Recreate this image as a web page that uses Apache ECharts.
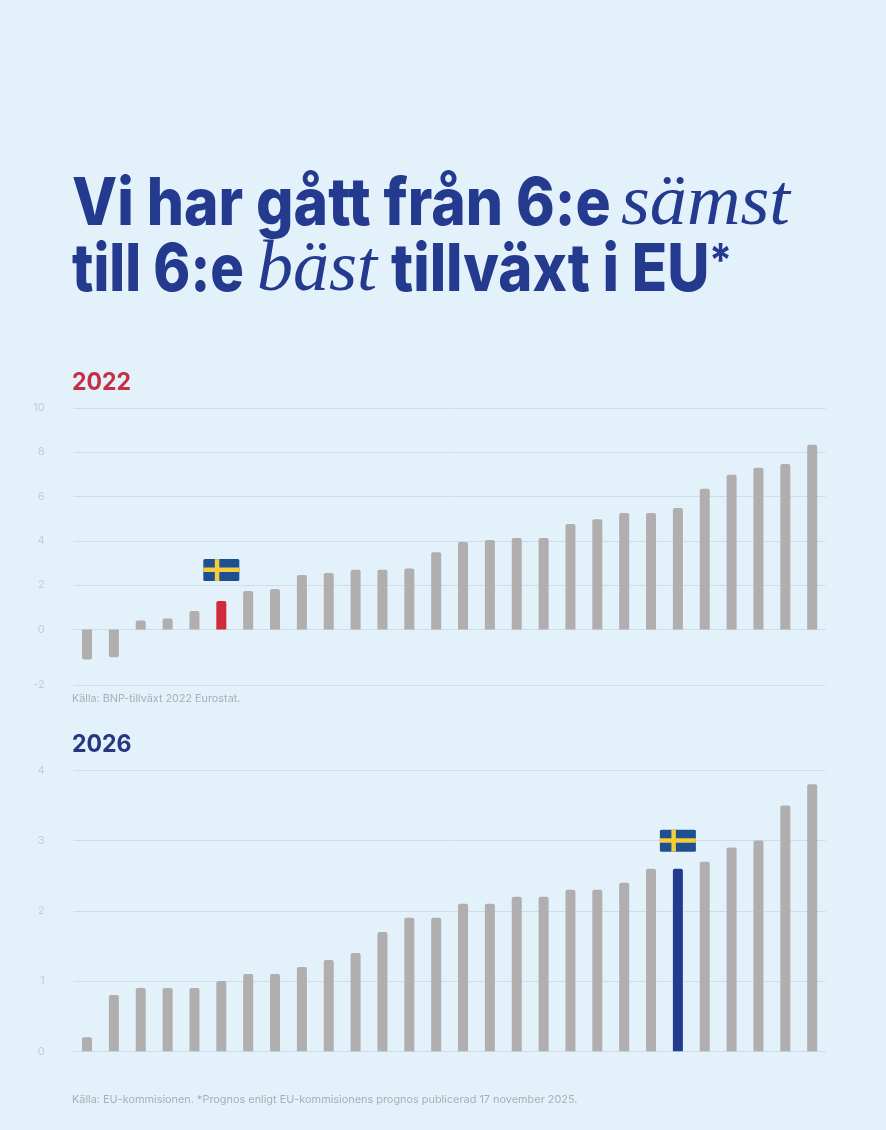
<!DOCTYPE html>
<html>
<head>
<meta charset="utf-8">
<title>Tillväxt i EU</title>
<script src="https://cdn.jsdelivr.net/npm/echarts@6/dist/echarts.min.js"></script>
<style>
  html, body { margin: 0; padding: 0; background: #e3f1fb; }
  #chart { width: 886px; height: 1130px; }
</style>
</head>
<body>
<div id="chart"></div>
<script>
// EU countries sorted by growth, the picture has no country names
const ranks = ['1','2','3','4','5','6','7','8','9','10','11','12','13','14','15','16','17','18','19','20','21','22','23','24','25','26','27','28'];

const values2022 = [-1.08,-1.0,0.41,0.5,0.84,1.28,1.74,1.83,2.46,2.55,2.69,2.69,2.75,3.48,3.95,4.04,4.13,4.13,4.76,4.97,5.26,5.26,5.48,6.35,6.98,7.3,7.46,8.33];
const values2026 = [0.2,0.8,0.9,0.9,0.9,1.0,1.1,1.1,1.2,1.3,1.4,1.7,1.9,1.9,2.1,2.1,2.2,2.2,2.3,2.3,2.4,2.6,2.6,2.7,2.9,3.0,3.5,3.8];

const sweden2022 = 5;
const sweden2026 = 22;

const grey = '#b0aeae';
const red = '#cf2b3a';
const blue = '#233a8f';
const lineColor = '#cfdde8';
const tickColor = '#c6ccd1';
const sourceColor = '#a9afb4';
const bg = '#e3f1fb';
const sans = 'Inter, "Liberation Sans", sans-serif';

function barData(values, sweden, color, keep) {
    return values.map((v, i) => {
        if (!keep(v)) return null;
        return i === sweden ? { value: v, itemStyle: { color: color } } : v;
    });
}

function barSeries(idx, data, radius) {
    return {
        type: 'bar',
        xAxisIndex: idx,
        yAxisIndex: idx,
        data: data,
        barWidth: 10,
        silent: true,
        itemStyle: { color: grey, borderRadius: radius }
    };
}

// flag sits a fixed distance above the Swedish bar
function flagSeries(idx, sweden, value, gap) {
    return {
        type: 'custom',
        xAxisIndex: idx,
        yAxisIndex: idx,
        silent: true,
        clip: false,
        z: 5,
        data: [[sweden, value]],
        renderItem: (params, api) => {
            const p = api.coord([api.value(0), api.value(1)]);
            const x = p[0] - 18;
            const y = p[1] - gap - 11;
            return {
                type: 'group',
                children: [
                    { type: 'rect', shape: { x: x, y: y, width: 36, height: 22, r: 1.5 }, style: { fill: '#1d4f91' } },
                    { type: 'rect', shape: { x: x + 11.5, y: y, width: 4.5, height: 22 }, style: { fill: '#f4cd3a' } },
                    { type: 'rect', shape: { x: x, y: y + 8.5, width: 36, height: 4.5 }, style: { fill: '#f4cd3a' } }
                ]
            };
        }
    };
}

function xAxis(gridIndex) {
    return {
        type: 'category',
        gridIndex: gridIndex,
        data: ranks,
        axisLine: { show: true, onZero: false, lineStyle: { color: lineColor, width: 1 } },
        axisTick: { show: false },
        axisLabel: { show: false },
        splitLine: { show: false }
    };
}

function yAxis(gridIndex, min, max, interval, showMax) {
    return {
        type: 'value',
        gridIndex: gridIndex,
        min: min,
        max: max,
        interval: interval,
        axisLine: { show: false },
        axisTick: { show: false },
        axisLabel: { color: tickColor, fontFamily: sans, fontSize: 11, margin: 29, showMaxLabel: showMax },
        splitLine: { show: true, lineStyle: { color: lineColor, width: 1 } }
    };
}

function text(str, x, y, font, fill, scaleX) {
    return {
        type: 'text',
        x: x,
        y: y,
        scaleX: scaleX || 1,
        silent: true,
        style: { text: str, font: font, fill: fill, verticalAlign: 'middle' }
    };
}

const headFont = '800 66px Inter, "Liberation Sans", sans-serif';
const italicFont = 'italic 400 72px "Liberation Serif", serif';

const chart = echarts.init(document.getElementById('chart'));
chart.setOption({
    backgroundColor: bg,
    animation: false,
    // the source draws -2..0 on a wider step than 0..10, hence a grid of its own
    grid: [
        { left: 73.6, width: 752, top: 407.8, height: 221.7 },
        { left: 73.6, width: 752, top: 629.5, height: 55.5 },
        { left: 73.6, width: 752, top: 770.3, height: 281 }
    ],
    xAxis: [xAxis(0), Object.assign(xAxis(1), { axisLine: { show: false } }), xAxis(2)],
    yAxis: [yAxis(0, 0, 10, 2, true), yAxis(1, -2, 0, 2, false), yAxis(2, 0, 4, 1, true)],
    series: [
        barSeries(0, barData(values2022, sweden2022, red, v => v > 0), [2, 2, 0, 0]),
        barSeries(1, barData(values2022, sweden2022, red, v => v < 0), [0, 0, 2, 2]),
        barSeries(2, barData(values2026, sweden2026, blue, v => v > 0), [2, 2, 0, 0]),
        flagSeries(0, sweden2022, values2022[sweden2022], 31),
        flagSeries(2, sweden2026, values2026[sweden2026], 28)
    ],
    graphic: { elements: [
        text('Vi har gått från 6:e', 72, 205, headFont, blue, 0.89),
        text('sämst', 621, 205, italicFont, blue, 1.03),
        text('till 6:e', 72, 271.5, headFont, blue, 0.85),
        text('bäst', 257, 271.5, italicFont, blue, 1),
        text('tillväxt i EU', 391, 271.5, headFont, blue, 0.88),
        text('*', 709, 263, '700 46px Inter, "Liberation Sans", sans-serif', blue, 0.9),
        text('2022', 72, 383, '700 24px ' + sans, '#c62f42', 0.96),
        text('2026', 72, 745, '700 24px ' + sans, '#24387f', 0.96),
        text('Källa: BNP-tillväxt 2022 Eurostat.', 72, 699, '400 10.8px ' + sans, sourceColor, 1),
        text('Källa: EU-kommisionen. *Prognos enligt EU-kommisionens prognos publicerad 17 november 2025.', 72, 1100, '400 10.9px ' + sans, sourceColor, 1)
    ] }
});
</script>
</body>
</html>
